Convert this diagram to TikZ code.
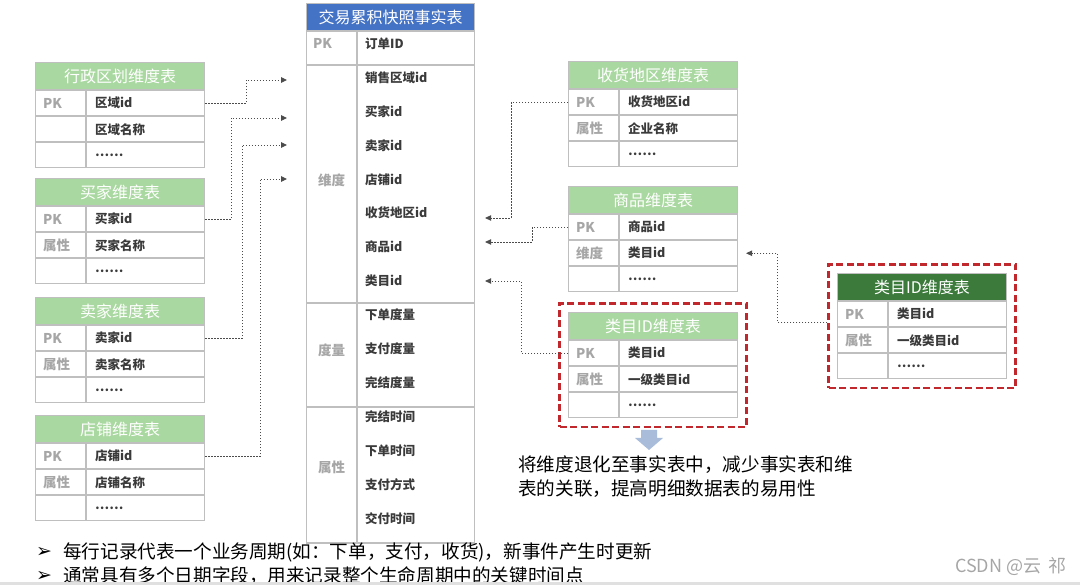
\documentclass[tikz,border=0pt]{standalone}
\usepackage{fontspec}
\setmainfont{Noto Sans CJK SC}
\newfontfamily\symfont{DejaVu Sans}
\usetikzlibrary{arrows.meta,calc,fit}

\definecolor{hdrgreen}{HTML}{A9D8A0}
\definecolor{hdrdark}{HTML}{3B7A3B}
\definecolor{hdrblue}{HTML}{4472C4}
\definecolor{gridgray}{HTML}{BFBFBF}
\definecolor{labgray}{HTML}{A6A6A6}
\definecolor{fldgray}{HTML}{3A3A3A}
\definecolor{boxred}{HTML}{C0282D}
\definecolor{arrblue}{HTML}{A9BDDB}

\begin{document}
\begin{tikzpicture}[x=1pt,y=-1pt]
		% set the styles of the tables
		\tikzset{
			grid/.style={draw=gridgray, line width=1.1pt},
			dimhdr/.style={
				draw=gridgray, line width=1.1pt, text=white,
				minimum width=169pt, minimum height=27pt, inner sep=0pt,
				font=\fontsize{16pt}{19pt}\selectfont
				},
			dimrow/.style={grid, minimum width=169pt, minimum height=25pt, inner sep=0pt},
			sect/.style={grid, minimum width=168pt, inner sep=0pt},
			lab/.style={anchor=west, inner sep=0pt, text=labgray, font=\bfseries\fontsize{13.5pt}{15pt}\selectfont},
			fld/.style={anchor=west, inner sep=0pt, text=fldgray, font=\bfseries\fontsize{12.5pt}{14pt}\selectfont},
			link/.style={draw=black!70, line width=0.9pt, dash pattern=on 1.5pt off 1.5pt,
				-{Triangle[length=6pt,width=5.5pt]}},
			catbox/.style={draw=boxred, line width=2.4pt, dash pattern=on 7pt off 3.5pt, inner sep=8.5pt},
			note/.style={anchor=west, inner sep=0pt, font=\fontsize{18.6pt}{24pt}\selectfont},
			bullet/.style={anchor=west, inner sep=0pt, font=\symfont\bfseries\fontsize{19pt}{20pt}\selectfont}
		}
		\useasboundingbox (0,0) rectangle (1080,585);

		% one dimension table: name, x, y, title, colour, rows
		\newcommand{\dimtab}[9]{%
			\node[dimhdr, fill=#5, anchor=north west] (#1) at (#2,#3) {#4};
			\node[dimrow, anchor=north] (#1-1) at (#1.south) {};
			\node[dimrow, anchor=north] (#1-2) at (#1-1.south) {};
			\node[dimrow, anchor=north] (#1-3) at (#1-2.south) {};
			\draw[grid] ([xshift=51pt]#1-1.north west) -- ([xshift=51pt]#1-3.south west);
			\node[lab] (#1-1l) at ([xshift=8pt]#1-1.west) {#6};
			\node[fld] (#1-1f) at ([xshift=60pt]#1-1.west) {#7};
			\node[lab] (#1-2l) at ([xshift=8pt]#1-2.west) {#8};
			\node[fld] (#1-2f) at ([xshift=60pt]#1-2.west) {#9};
			\node[fld] (#1-3f) at ([xshift=60pt]#1-3.west) {……};
		}

		% fact table
		\node[dimhdr, fill=hdrblue, minimum width=168pt, anchor=north west] (fact) at (306,3) {交易累积快照事实表};
		\node[sect, minimum height=33pt, anchor=north] (fact-pk) at (fact.south) {};
		\node[sect, minimum height=237pt, anchor=north] (fact-dim) at (fact-pk.south) {};
		\node[sect, minimum height=103pt, anchor=north] (fact-mea) at (fact-dim.south) {};
		\node[sect, minimum height=135pt, anchor=north] (fact-att) at (fact-mea.south) {};
		\draw[grid] ([xshift=51pt]fact-pk.north west) -- ([xshift=51pt]fact-att.south west);
		\node[lab] (l-pk) at (313,43) {PK};
		\node[lab, anchor=center] (l-dim) at (331.5,180) {维度};
		\node[lab, anchor=center] (l-mea) at (331.5,350) {度量};
		\node[lab, anchor=center] (l-att) at (331.5,467) {属性};
		% fields
		\node[fld] (f-order) at (365,44) {订单ID};
		\node[fld] (f-sale) at (365,78) {销售区域id};
		\node[fld] (f-buyer) at (365,112) {买家id};
		\node[fld] (f-seller) at (365,146) {卖家id};
		\node[fld] (f-shop) at (365,180) {店铺id};
		\node[fld] (f-ship) at (365,213) {收货地区id};
		\node[fld] (f-goods) at (365,247) {商品id};
		\node[fld] (f-cat) at (365,281) {类目id};
		\node[fld] (f-m1) at (365,315) {下单度量};
		\node[fld] (f-m2) at (365,349) {支付度量};
		\node[fld] (f-m3) at (365,383) {完结度量};
		\node[fld] (f-a1) at (365,417) {完结时间};
		\node[fld] (f-a2) at (365,451) {下单时间};
		\node[fld] (f-a3) at (365,485) {支付方式};
		\node[fld] (f-a4) at (365,519) {交付时间};

		% left tables
		\dimtab{zone}{35}{62}{行政区划维度表}{hdrgreen}{PK}{区域id}{}{区域名称}
		\dimtab{buyer}{35}{178}{买家维度表}{hdrgreen}{PK}{买家id}{属性}{买家名称}
		\dimtab{seller}{35}{297}{卖家维度表}{hdrgreen}{PK}{卖家id}{属性}{卖家名称}
		\dimtab{shop}{35}{415}{店铺维度表}{hdrgreen}{PK}{店铺id}{属性}{店铺名称}

		% right tables
		\dimtab{ship}{568}{61}{收货地区维度表}{hdrgreen}{PK}{收货地区id}{属性}{企业名称}
		\dimtab{goods}{568}{186}{商品维度表}{hdrgreen}{PK}{商品id}{维度}{类目id}
		\dimtab{catm}{568}{312}{类目ID维度表}{hdrgreen}{PK}{类目id}{属性}{一级类目id}
		\dimtab{catr}{837}{273}{类目ID维度表}{hdrdark}{PK}{类目id}{属性}{一级类目id}
		\node[catbox, fit=(catm)(catm-3)] (catbox-m) {};
		\node[catbox, fit=(catr)(catr-3)] (catbox-r) {};

		% arrow ends
		\coordinate (in-sale) at ($(fact-dim.west |- f-sale)+(-19,2)$);
		\coordinate (in-buyer) at ($(fact-dim.west |- f-buyer)+(-19,6)$);
		\coordinate (in-seller) at ($(fact-dim.west |- f-seller)+(-19,-1)$);
		\coordinate (in-shop) at ($(fact-dim.west |- f-shop)+(-19,-1)$);
		\coordinate (in-ship) at ($(fact-dim.east |- f-ship)+(10,5)$);
		\coordinate (in-goods) at ($(fact-dim.east |- f-goods)+(10,-5)$);
		\coordinate (in-cat) at ($(fact-dim.east |- f-cat)+(10,0)$);
		\coordinate (in-goodscat) at ([xshift=8pt]goods-2.east);

		% links
		\draw[link] (zone-1.east) -- ++(41,0) |- (in-sale);
		\draw[link] (buyer-1.east) -- ++(26,0) |- (in-buyer);
		\draw[link] (seller-1.east) -- ++(37,0) |- (in-seller);
		\draw[link] (shop-1.east) -- ++(55,0) |- (in-shop);
		\draw[link] (ship-1.west) -- ++(-57,0) |- (in-ship);
		\draw[link] (goods-1.west) -- ++(-36,0) |- (in-goods);
		\draw[link] (catm-1.west) -- ++(-47,0) |- (in-cat);
		\draw[link] ([yshift=4pt]catbox-r.west) -- ++(-50,0) |- (in-goodscat);

		% down arrow and remark
		\fill[arrblue] (641,430) -- (657,430) -- (657,438) -- (663,438) -- (649,450) -- (635,438) -- (641,438) -- cycle;
		\node[note, anchor=north west, align=left] (remark) at (518,456) {将维度退化至事实表中，减少事实表和维\\表的关联，提高明细数据表的易用性};

		% notes
		\node[bullet] (b1) at (36,552) {➢};
		\node[note] (n1) at (63,552) {每行记录代表一个业务周期(如：下单，支付，收货)，新事件产生时更新};
		\node[bullet] (b2) at (36,576) {➢};
		\node[note] (n2) at (63,576) {通常具有多个日期字段，用来记录整个生命周期中的关键时间点};
		\node[anchor=west, inner sep=0pt, text=black!35, font=\fontsize{18pt}{20pt}\selectfont] (mark) at (955,566) {CSDN @云\hspace{7pt}祁};
		\fill[black!12] (0,582) rectangle (1080,585);
\end{tikzpicture}
\end{document}
